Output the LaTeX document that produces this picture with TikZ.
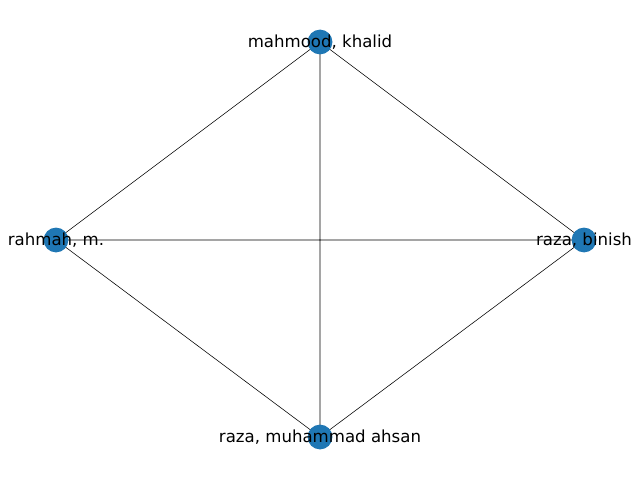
\documentclass[tikz,border=0pt]{standalone}
\usepackage{fontspec}
\setmainfont{DejaVu Sans}
\usepackage{tikz}
\definecolor{nxblue}{HTML}{1F77B4}
\usetikzlibrary{backgrounds}
\tikzstyle{vertice}=[circle, fill=nxblue, inner sep=0pt, minimum size=6.2mm]
\tikzstyle{person}=[font=\fontsize{11.8}{14}\selectfont, text=black]

\begin{document}
\begin{tikzpicture}[line width=0.9pt]
			\useasboundingbox (0,0) rectangle (16,12);
			\node[label={[person]center:{mahmood, khalid}}, vertice] (khalid) at (8,10.95) {};
			\node[label={[person]center:{rahmah, m.}}, vertice] (rahmah) at (1.4,6.0) {};
			\node[label={[person]center:{raza, binish}}, vertice] (binish) at (14.6,6.0) {};
			\node[label={[person]center:{raza, muhammad ahsan}}, vertice] (ahsan) at (8,1.075) {};
			\begin{scope}[on background layer]
			\path[draw=black]
				(khalid.center)--(rahmah.center)--(ahsan.center)--(binish.center)--(khalid.center)
				(khalid.center)--(ahsan.center)
				(rahmah.center)--(binish.center);
			\end{scope}
		\end{tikzpicture}
\end{document}
